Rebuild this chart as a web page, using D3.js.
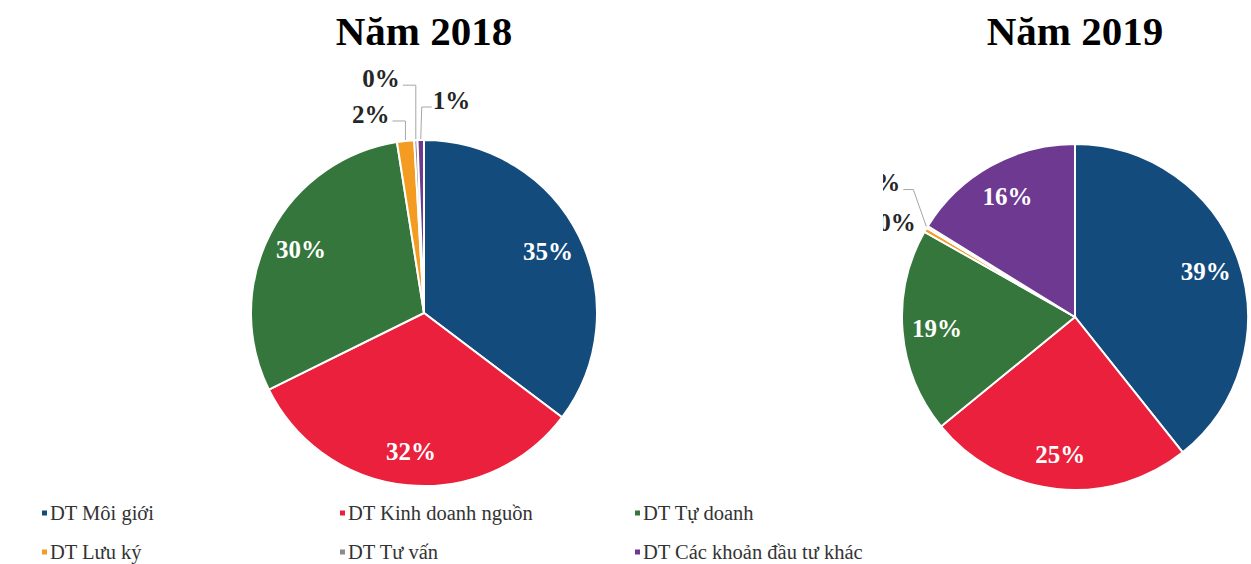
<!DOCTYPE html>
<html>
<head>
<meta charset="utf-8">
<script src="https://cdn.jsdelivr.net/npm/d3@7"></script>
<style>
  body { margin: 0; background: #fff; }
  svg { display: block; font-family: "Liberation Serif", "Times New Roman", serif; }
</style>
</head>
<body>
<div id="chart"></div>
<script>
const width = 1251;
const height = 564;

const categories = [
  "DT Môi giới",
  "DT Kinh doanh nguồn",
  "DT Tự doanh",
  "DT Lưu ký",
  "DT Tư vấn",
  "DT Các khoản đầu tư khác"
];
const colors = ["#144b7d", "#ea203c", "#35763c", "#f49b22", "#8c8c8c", "#6e3991"];
const values2018 = [35.3, 32.4, 29.8, 1.6, 0.3, 0.6];
const values2019 = [39.3, 24.8, 19.1, 0.4, 0.2, 16.2];
const titles = ["Năm 2018", "Năm 2019"];

const svg = d3
  .select("#chart")
  .append("svg")
  .attr("width", width)
  .attr("height", height);

const fmt = d3.format(".0%");
const radius = 173;

// small slices get their label outside, placed relative to the slice's edge
const charts = [
  {
    title: titles[0],
    values: values2018,
    cx: 424,
    cy: 313,
    clipX: 0,
    outside: {
      3: { dx: -16, dy: -26, anchor: "end", elbowDx: 0, leader: true },
      4: { dx: -16, dy: -61, anchor: "end", elbowDx: 0, leader: true },
      5: { dx: 12, dy: -39, anchor: "start", elbowDx: 1, leader: true }
    }
  },
  {
    title: titles[1],
    values: values2019,
    cx: 1075,
    cy: 317,
    clipX: 883,
    outside: {
      3: { dx: -9, dy: -7, anchor: "end", leader: false },
      4: { dx: -26, dy: -44, anchor: "end", elbowDx: -13, leader: true }
    }
  }
];

const pie = d3.pie().sort(null).value((d) => d);
const arc = d3.arc().innerRadius(0).outerRadius(radius);
const labelArc = d3.arc().innerRadius(radius * 0.8).outerRadius(radius * 0.8);

charts.forEach((c, ci) => {
  svg
    .append("text")
    .attr("x", c.cx)
    .attr("y", 45)
    .attr("text-anchor", "middle")
    .style("font-size", "41px")
    .style("font-weight", "bold")
    .attr("fill", "#000")
    .text(c.title);

  svg
    .append("clipPath")
    .attr("id", "clip" + ci)
    .append("rect")
    .attr("x", c.clipX)
    .attr("y", 0)
    .attr("width", width)
    .attr("height", height);

  const g = svg
    .append("g")
    .attr("clip-path", `url(#clip${ci})`)
    .append("g")
    .attr("transform", `translate(${c.cx},${c.cy})`);

  const total = d3.sum(c.values);
  const arcs = pie(c.values);

  g.selectAll("path")
    .data(arcs)
    .enter()
    .append("path")
    .attr("d", arc)
    .attr("fill", (d, i) => colors[i])
    .attr("stroke", "#fff")
    .attr("stroke-width", 2);

  // inside labels
  g.selectAll("text.inside")
    .data(arcs.filter((d) => !c.outside[d.index]))
    .enter()
    .append("text")
    .attr("class", "inside")
    .attr("transform", (d) => `translate(${labelArc.centroid(d)})`)
    .attr("text-anchor", "middle")
    .attr("dy", "0.35em")
    .attr("fill", "#fff")
    .style("font-size", "25px")
    .style("font-weight", "bold")
    .text((d) => fmt(d.data / total));

  // outside labels + leader lines
  arcs
    .filter((d) => c.outside[d.index])
    .forEach((d) => {
      const o = c.outside[d.index];
      const mid = (d.startAngle + d.endAngle) / 2;
      const ex = Math.sin(mid) * (radius + 1);
      const ey = -Math.cos(mid) * (radius + 1);
      const lx = ex + o.dx;
      const ly = ey + o.dy;

      if (o.leader) {
        const side = o.anchor === "end" ? 3 : -1;
        g.append("polyline")
          .attr("points", [
            [lx + side, ly + 7],
            [ex + o.elbowDx, ly + 7],
            [ex, ey]
          ].map((p) => p.join(",")).join(" "))
          .attr("fill", "none")
          .attr("stroke", "#a6a6a6")
          .attr("stroke-width", 1);
      }

      g.append("text")
        .attr("x", lx)
        .attr("y", ly)
        .attr("dy", "0.35em")
        .attr("text-anchor", o.anchor)
        .attr("fill", "#262626")
        .style("font-size", "25px")
        .style("font-weight", "bold")
        .text(fmt(d.data / total));
    });
});

// legend
const legendX = [42, 340, 635];
const legendY = [513, 552];
const legend = svg
  .selectAll("g.legend")
  .data(categories)
  .enter()
  .append("g")
  .attr("class", "legend")
  .attr(
    "transform",
    (d, i) => `translate(${legendX[i % 3]},${legendY[Math.floor(i / 3)]})`
  );

legend
  .append("rect")
  .attr("x", 0)
  .attr("y", -2.5)
  .attr("width", 5)
  .attr("height", 5)
  .attr("fill", (d, i) => colors[i]);

legend
  .append("text")
  .attr("x", 8)
  .attr("y", 7)
  .attr("fill", "#333")
  .style("font-family", "'Liberation Serif', serif")
  .style("font-size", "20.5px")
  .text((d) => d);
</script>
</body>
</html>
